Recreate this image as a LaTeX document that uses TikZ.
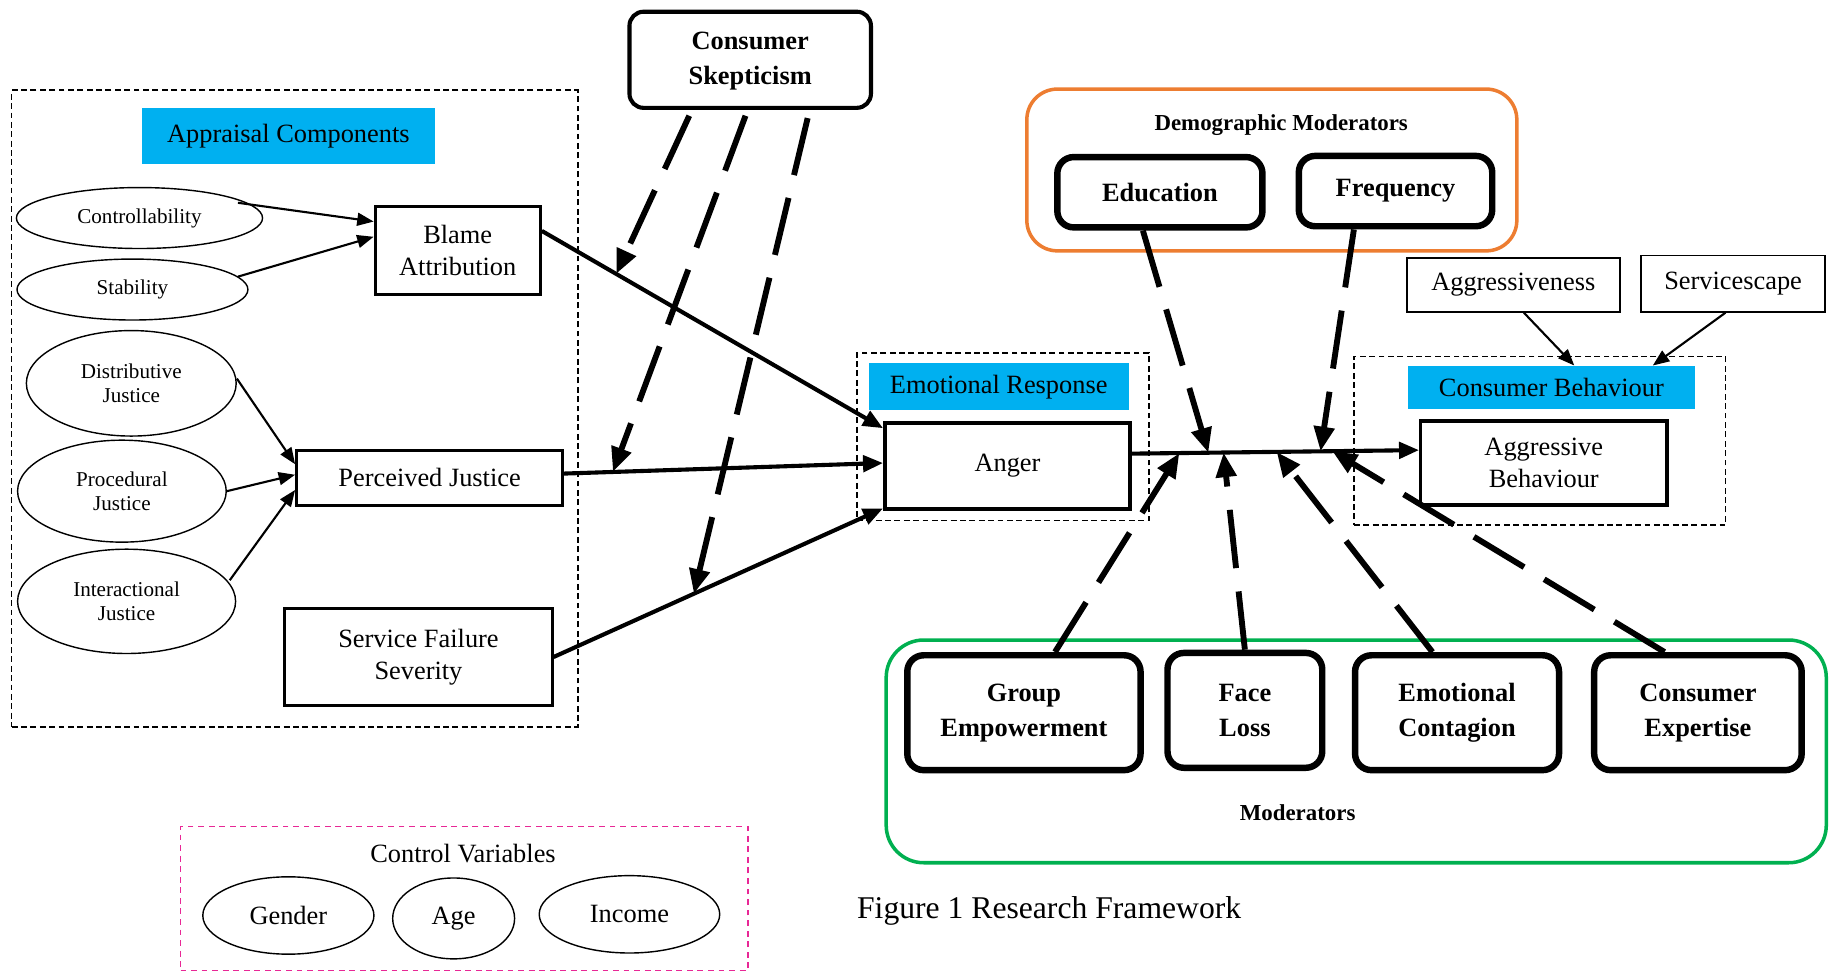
\documentclass[tikz,border=0pt]{standalone}
\usepackage{fontspec}
\setmainfont{Liberation Serif}
\usetikzlibrary{arrows.meta,calc,shapes.geometric}

\definecolor{hdrcyan}{RGB}{0,176,240}
\definecolor{demoorange}{RGB}{237,125,49}
\definecolor{modgreen}{RGB}{0,176,80}
\definecolor{ctrlpink}{RGB}{232,40,150}

\tikzset{
  txt/.style={font=\fontsize{22.5}{27}\selectfont, align=center},
  smalltxt/.style={font=\fontsize{18}{21}\selectfont, align=center},
  boldtxt/.style={font=\bfseries\fontsize{22.5}{30}\selectfont, align=center},
  lbltxt/.style={font=\bfseries\fontsize{19.5}{22}\selectfont, inner sep=0pt},
  grpbox/.style={draw, dash pattern=on 5pt off 3pt, line width=1.3pt, inner sep=0pt},
  hdr/.style={fill=hdrcyan, inner sep=0pt, txt},
  plainbox/.style={draw, line width=2.5pt, inner sep=0pt, txt},
  thinbox/.style={draw, line width=1.5pt, inner sep=0pt, txt},
  oval/.style={draw, ellipse, line width=1.2pt, inner sep=0pt, smalltxt},
  bigoval/.style={draw, ellipse, line width=1.2pt, inner sep=0pt, txt},
  modbox/.style={draw, line width=5.5pt, rounded corners=14pt, inner sep=0pt, boldtxt},
  thinarrow/.style={line width=1.8pt, -{Triangle[length=14pt,width=11pt]}},
  thickarrow/.style={line width=3.5pt, -{Triangle[length=17pt,width=14pt]}},
  modarrow/.style={line width=5pt, dash pattern=on 50pt off 20pt, -{Triangle[length=21pt,width=17pt]}},
}

\begin{document}
\begin{tikzpicture}[x=1pt,y=-1pt]
\useasboundingbox (0,0) rectangle (1568,830);

% ---- Appraisal components ----
\node[grpbox, minimum width=483pt, minimum height=543pt] (apprgrp) at (251.5,348.5) {};
\node[hdr, minimum width=250pt, minimum height=48pt] (apprhdr) at (246,116) {Appraisal Components};
\node[oval, minimum width=210pt, minimum height=52pt] (ctrl) at (119,186) {Controllability};
\node[oval, minimum width=197pt, minimum height=52pt] (stab) at (113,247) {Stability};
\node[oval, minimum width=179pt, minimum height=90pt] (dist) at (112,327) {Distributive\\Justice};
\node[oval, minimum width=178pt, minimum height=87pt] (proc) at (104,419) {Procedural\\Justice};
\node[oval, minimum width=186pt, minimum height=89pt] (inter) at (108,513) {Interactional\\Justice};
\node[plainbox, minimum width=141pt, minimum height=75pt] (blame) at (390.5,213.5) {Blame\\Attribution};
\node[plainbox, minimum width=227pt, minimum height=47pt] (perc) at (366.5,407.5) {Perceived Justice};
\node[plainbox, minimum width=228pt, minimum height=83pt] (sfs) at (357,560.5) {Service Failure\\Severity};

% ---- Consumer skepticism (text sits low in its box) ----
\node[draw, line width=3.5pt, rounded corners=12pt, inner sep=0pt, boldtxt,
      minimum width=206pt, minimum height=82pt] (skep) at (640,51)
      {\raisebox{-5pt}{\begin{tabular}{@{}c@{}}Consumer\\Skepticism\end{tabular}}};

% ---- Emotional response ----
\node[grpbox, minimum width=249pt, minimum height=143pt] (emogrp) at (855.5,372.5) {};
\node[hdr, minimum width=222pt, minimum height=40pt] (emohdr) at (852,330) {Emotional Response};
\node[plainbox, line width=3.5pt, minimum width=209pt, minimum height=73pt] (anger) at (859.5,397.5) {Anger};

% ---- Consumer behaviour ----
\node[grpbox, minimum width=317pt, minimum height=144pt] (cbgrp) at (1313.5,376) {};
\node[hdr, minimum width=245pt, minimum height=37pt] (cbhdr) at (1323.5,330.5) {Consumer Behaviour};
\node[plainbox, line width=3pt, minimum width=210pt, minimum height=72pt] (aggb) at (1317,395) {Aggressive\\Behaviour};
\node[thinbox, minimum width=182pt, minimum height=46pt] (aggr) at (1291,243) {Aggressiveness};
\node[thinbox, minimum width=157pt, minimum height=48pt] (svc) at (1478.5,242) {Servicescape};

% ---- Demographic moderators ----
\node[draw=demoorange, line width=3pt, rounded corners=26pt, minimum width=418pt, minimum height=138pt] (demogrp) at (1085,145) {};
\node[lbltxt] (demolbl) at (1093,107) {Demographic Moderators};
\node[modbox, minimum width=175pt, minimum height=60pt] (edu) at (989.5,164) {Education};
\node[modbox, minimum width=165pt, minimum height=60pt] (freq) at (1190.5,163) {Frequency};

% ---- Moderators ----
\node[draw=modgreen, line width=3pt, rounded corners=32pt, minimum width=802pt, minimum height=190pt] (modgrp) at (1157,641) {};
\node[modbox, minimum width=199pt, minimum height=98pt] (grpemp) at (873.5,608) {Group\\Empowerment};
\node[modbox, minimum width=132pt, minimum height=98pt] (face) at (1062,606) {Face\\Loss};
\node[modbox, minimum width=174pt, minimum height=98pt] (emoc) at (1243,608) {Emotional\\Contagion};
\node[modbox, minimum width=177pt, minimum height=98pt] (cexp) at (1448.5,608) {Consumer\\Expertise};
\node[lbltxt] (modlbl) at (1107,693) {Moderators};

% ---- Control variables ----
\node[grpbox, draw=ctrlpink, dash pattern=on 5pt off 4pt, minimum width=484pt, minimum height=123pt] (ctrlgrp) at (396,766.5) {};
\node[txt, inner sep=0pt] (ctrllbl) at (395,728) {Control Variables};
\node[bigoval, minimum width=146pt, minimum height=66pt] (gender) at (246,781) {Gender};
\node[bigoval, minimum width=104pt, minimum height=69pt] (age) at (387,783.5) {Age};
\node[bigoval, minimum width=154pt, minimum height=66pt] (income) at (537,780) {Income};

\node[anchor=west, inner sep=0pt, font=\fontsize{27}{30}\selectfont] (caption) at (731,777) {Figure 1 Research Framework};

% ---- thin arrows into the appraisal outcomes ----
\draw[thinarrow] ([shift={(84,-13)}]ctrl.center) -- ([yshift=24.5pt]blame.west);
\draw[thinarrow] ([shift={(90,-11)}]stab.center) -- ([yshift=11.5pt]blame.west);
\draw[thinarrow] ([yshift=4pt]dist.east) -- ([yshift=11.5pt]perc.west);
\draw[thinarrow] (proc.east) -- ([yshift=2.5pt]perc.west);
\draw[thinarrow] ([shift={(88,-18)}]inter.center) -- ([yshift=-10.5pt]perc.west);

% ---- main paths ----
\coordinate (baS) at ([yshift=16.5pt]blame.east);
\coordinate (baE) at ([yshift=-6pt]anger.north west);
\coordinate (paS) at ([yshift=3.5pt]perc.east);
\coordinate (paE) at ([yshift=2.5pt]anger.west);
\coordinate (saS) at (sfs.east);
\coordinate (saE) at ([yshift=2pt]anger.south west);
\coordinate (agS) at ([yshift=10.5pt]anger.east);
\coordinate (agE) at ([yshift=11pt]aggb.west);

\draw[thickarrow] (baS) -- (baE);
\draw[thickarrow] (paS) -- (paE);
\draw[thickarrow] (saS) -- (saE);
\draw[thickarrow] (agS) -- (agE);

\draw[thinarrow] ([xshift=9pt]aggr.south) -- ([xshift=19.5pt]cbhdr.north);
\draw[thinarrow] ([xshift=-6.5pt]svc.south) -- ([xshift=86.5pt]cbhdr.north);

% ---- moderation targets on the paths ----
\coordinate (tipBA) at ($(baS)!0.218!(baE)$);
\coordinate (tipPA) at ($(paS)!0.153!(paE)$);
\coordinate (tipSA) at ($(saS)!0.426!(saE)$);
\coordinate (tipEdu) at ($(agS)!0.266!(agE)$);
\coordinate (tipFreq) at ($(agS)!0.657!(agE)$);
\coordinate (tipGE) at ($(agS)!0.165!(agE)$);
\coordinate (tipFL) at ($(agS)!0.319!(agE)$);
\coordinate (tipEC) at ($(agS)!0.504!(agE)$);
\coordinate (tipCE) at ($(agS)!0.698!(agE)$);

% ---- moderation arrows ----
\draw[modarrow] ([shift={(-52,5)}]skep.south) -- (tipBA);
\draw[modarrow] ([shift={(-4,5)}]skep.south) -- (tipPA);
\draw[modarrow] ([shift={(49,7)}]skep.south) -- (tipSA);
\draw[modarrow] ([xshift=-14.5pt]edu.south) -- (tipEdu);
\draw[modarrow] ([xshift=-35.5pt]freq.south) -- (tipFreq);
\draw[modarrow] ([xshift=26.5pt]grpemp.north) -- (tipGE);
\draw[modarrow] (face.north) -- (tipFL);
\draw[modarrow] ([xshift=-21pt]emoc.north) -- (tipEC);
\draw[modarrow] ([xshift=-28.5pt]cexp.north) -- (tipCE);

\end{tikzpicture}
\end{document}
